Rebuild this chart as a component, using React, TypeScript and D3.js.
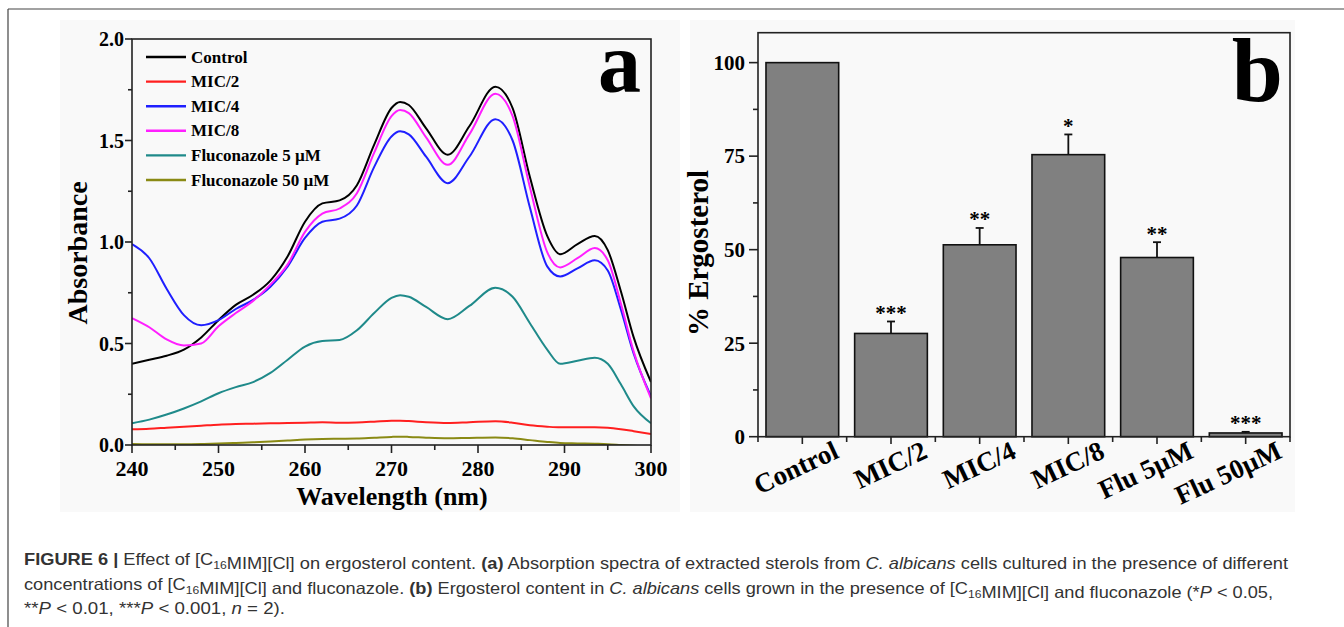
import * as React from 'react';
import { scaleLinear, scaleBand, line as d3line, curveMonotoneX, range } from 'd3';

// ---- panel a: absorption spectra ----
const WAVELENGTH = [240, 242, 244, 246, 248, 250, 252, 254, 256, 258, 260, 262, 264, 266, 268, 270, 271, 272, 274, 276.5, 279, 282, 284, 286, 288, 289.5, 291.5, 293.5, 295, 296.5, 298, 300];
const CONTROL = [0.40, 0.42, 0.44, 0.47, 0.53, 0.615, 0.69, 0.74, 0.81, 0.93, 1.10, 1.19, 1.205, 1.28, 1.48, 1.66, 1.69, 1.675, 1.56, 1.43, 1.57, 1.765, 1.66, 1.32, 1.03, 0.94, 0.99, 1.03, 0.96, 0.76, 0.53, 0.31];
const MIC2 = [0.077, 0.08, 0.085, 0.09, 0.095, 0.10, 0.103, 0.105, 0.107, 0.108, 0.11, 0.112, 0.11, 0.111, 0.115, 0.12, 0.12, 0.118, 0.112, 0.108, 0.112, 0.117, 0.11, 0.097, 0.09, 0.087, 0.087, 0.087, 0.085, 0.078, 0.068, 0.054];
const MIC4 = [0.99, 0.92, 0.77, 0.64, 0.59, 0.615, 0.67, 0.715, 0.78, 0.88, 1.02, 1.10, 1.115, 1.18, 1.37, 1.52, 1.545, 1.53, 1.42, 1.29, 1.42, 1.605, 1.50, 1.17, 0.88, 0.83, 0.87, 0.91, 0.86, 0.67, 0.45, 0.24];
const MIC8 = [0.625, 0.58, 0.52, 0.49, 0.50, 0.585, 0.65, 0.71, 0.79, 0.89, 1.05, 1.14, 1.165, 1.24, 1.44, 1.62, 1.65, 1.635, 1.515, 1.38, 1.53, 1.73, 1.62, 1.27, 0.95, 0.875, 0.92, 0.97, 0.91, 0.70, 0.46, 0.23];
const FLU5 = [0.107, 0.125, 0.15, 0.18, 0.215, 0.255, 0.285, 0.31, 0.355, 0.42, 0.485, 0.512, 0.517, 0.565, 0.65, 0.725, 0.738, 0.73, 0.68, 0.62, 0.685, 0.775, 0.73, 0.60, 0.47, 0.40, 0.415, 0.43, 0.40, 0.30, 0.19, 0.107];
const FLU50 = [0.005, 0.004, 0.004, 0.004, 0.005, 0.007, 0.01, 0.013, 0.017, 0.022, 0.027, 0.03, 0.031, 0.032, 0.036, 0.04, 0.041, 0.04, 0.036, 0.033, 0.035, 0.037, 0.033, 0.024, 0.015, 0.01, 0.008, 0.006, 0.004, 0.0, -0.004, -0.008];

const SPECTRA_NAMES = ['Control', 'MIC/2', 'MIC/4', 'MIC/8', 'Fluconazole 5 µM', 'Fluconazole 50 µM'];
const SPECTRA = [CONTROL, MIC2, MIC4, MIC8, FLU5, FLU50];
const SPECTRA_COLORS = ['#000000', '#ff1f1f', '#1f1fff', '#ff1fff', '#1f8a8a', '#8a8a14'];
const ABS_TICKS = ['0.0', '0.5', '1.0', '1.5', '2.0'];
const WL_TICKS = ['240', '250', '260', '270', '280', '290', '300'];

// ---- panel b: ergosterol content ----
const CATEGORIES = ['Control', 'MIC/2', 'MIC/4', 'MIC/8', 'Flu 5µM', 'Flu 50µM'];
const ERGOSTEROL = [100, 27.6, 51.3, 75.4, 47.9, 1.0];
const ERGO_ERR = [0, 3.2, 4.5, 5.4, 4.1, 0.3];
const SIGNIF = ['', '***', '**', '*', '**', '***'];
const ERGO_TICKS = ['0', '25', '50', '75', '100'];

const SERIF = '"Liberation Serif", "Times New Roman", serif';
const SANS = '"Liberation Sans", Arial, sans-serif';

function SpectraPanel() {
  const x = scaleLinear().domain([240, 300]).range([132, 651]);
  const y = scaleLinear().domain([0, 2]).range([445, 39]);
  const ln = d3line<number>()
    .x((_, i) => x(WAVELENGTH[i]))
    .y(d => y(d))
    .curve(curveMonotoneX);

  return (
    <g>
      <rect x={60} y={20} width={620} height={492} fill="#f9f9f9" />
      <clipPath id="clipA">
        <rect x={132} y={39} width={519} height={406} />
      </clipPath>
      <g clipPath="url(#clipA)">
        {SPECTRA.map((s, i) => (
          <path key={i} d={ln(s) ?? ''} fill="none" stroke={SPECTRA_COLORS[i]} strokeWidth={2} />
        ))}
      </g>
      <rect x={132} y={39} width={519} height={406} fill="none" stroke="#222" strokeWidth={1.6} />
      {/* y ticks */}
      {range(0, 2.001, 0.25).map(v => {
        const major = Math.abs(v * 2 - Math.round(v * 2)) < 1e-6;
        return <line key={v} x1={132} x2={132 - (major ? 7 : 4)} y1={y(v)} y2={y(v)} stroke="#222" strokeWidth={1.6} />;
      })}
      {ABS_TICKS.map(t => (
        <text key={t} x={124} y={y(+t)} dy="0.35em" textAnchor="end" fontFamily={SERIF} fontWeight="bold" fontSize={20}>{t}</text>
      ))}
      {/* x ticks */}
      {range(240, 301, 5).map(v => (
        <line key={v} x1={x(v)} x2={x(v)} y1={445} y2={445 + (v % 10 === 0 ? 8 : 5)} stroke="#222" strokeWidth={1.6} />
      ))}
      {WL_TICKS.map(t => (
        <text key={t} x={x(+t)} y={476} textAnchor="middle" fontFamily={SERIF} fontWeight="bold" fontSize={22}>{t}</text>
      ))}
      <text x={392} y={505} textAnchor="middle" fontFamily={SERIF} fontWeight="bold" fontSize={26}>Wavelength (nm)</text>
      <text transform="translate(87,253) rotate(-90)" textAnchor="middle" fontFamily={SERIF} fontWeight="bold" fontSize={28}>Absorbance</text>
      <text x={641} y={92} textAnchor="end" fontFamily={SERIF} fontWeight="bold" fontSize={86}>a</text>
      {/* legend */}
      {SPECTRA_NAMES.map((name, i) => {
        const ly = 57 + i * 24.6;
        return (
          <g key={name}>
            <line x1={146} x2={186} y1={ly} y2={ly} stroke={SPECTRA_COLORS[i]} strokeWidth={2.4} />
            <text x={191} y={ly} dy="0.33em" fontFamily={SERIF} fontWeight="bold" fontSize={17}>{name}</text>
          </g>
        );
      })}
    </g>
  );
}

function ErgosterolPanel() {
  const x = scaleBand<string>().domain(CATEGORIES).range([758, 1290]).paddingInner(0.18).paddingOuter(0.09);
  const y = scaleLinear().domain([0, 108]).range([436.7, 32.7]);
  const bw = x.bandwidth();
  const edges = range(0, CATEGORIES.length + 1).map(k => 758 + (k * 532) / CATEGORIES.length);

  return (
    <g>
      <rect x={690} y={20} width={605} height={492} fill="#f9f9f9" />
      {CATEGORIES.map((c, i) => {
        const cx = (x(c) ?? 0) + bw / 2;
        const top = y(ERGOSTEROL[i]);
        const errTop = y(ERGOSTEROL[i] + ERGO_ERR[i]);
        return (
          <g key={c}>
            {ERGO_ERR[i] > 0 && (
              <g stroke="#111" strokeWidth={1.8}>
                <line x1={cx} x2={cx} y1={top} y2={errTop} />
                <line x1={cx - 4} x2={cx + 4} y1={errTop} y2={errTop} />
              </g>
            )}
            <rect x={x(c)} y={top} width={bw} height={y(0) - top} fill="#808080" stroke="#111" strokeWidth={1.6} />
            {SIGNIF[i] && (
              <text x={cx} y={errTop - 1.5} textAnchor="middle" fontFamily={SERIF} fontWeight="bold" fontSize={21}>{SIGNIF[i]}</text>
            )}
            <text transform={`translate(${cx + 38},457) rotate(-25)`} textAnchor="end" fontFamily={SERIF} fontWeight="bold" fontSize={27}>{c}</text>
          </g>
        );
      })}
      <rect x={758} y={32.7} width={532} height={404} fill="none" stroke="#222" strokeWidth={1.6} />
      {range(0, 108, 12.5).map(v => {
        const major = v % 25 === 0;
        return <line key={v} x1={758} x2={758 - (major ? 9 : 5)} y1={y(v)} y2={y(v)} stroke="#222" strokeWidth={1.6} />;
      })}
      {ERGO_TICKS.map(t => (
        <text key={t} x={745} y={y(+t)} dy="0.35em" textAnchor="end" fontFamily={SERIF} fontWeight="bold" fontSize={21}>{t}</text>
      ))}
      {edges.map((ex, k) => (
        <line key={'b' + k} x1={ex} x2={ex} y1={436.7} y2={442} stroke="#222" strokeWidth={1.6} />
      ))}
      {CATEGORIES.map(c => {
        const cx = (x(c) ?? 0) + bw / 2;
        return <line key={'t' + c} x1={cx} x2={cx} y1={436.7} y2={444} stroke="#222" strokeWidth={1.6} />;
      })}
      <text transform="translate(708,253) rotate(-90)" textAnchor="middle" fontFamily={SERIF} fontWeight="bold" fontSize={29}>% Ergosterol</text>
      <text x={1283} y={101} textAnchor="end" fontFamily={SERIF} fontWeight="bold" fontSize={92}>b</text>
    </g>
  );
}

function Caption() {
  const sub = (s: string) => [
    <tspan key="s" dy={4} fontSize={11}>{s}</tspan>,
    <tspan key="r" dy={-4}></tspan>,
  ];
  return (
    <g fontFamily={SANS} fontSize={16.5} fill="#333">
      <text x={24} y={565} textLength={1264} lengthAdjust="spacingAndGlyphs">
        <tspan fontWeight="bold">FIGURE 6 |</tspan>
        <tspan> Effect of [C</tspan>{sub('16')}<tspan>MIM][Cl] on ergosterol content. </tspan>
        <tspan fontWeight="bold">(a)</tspan>
        <tspan> Absorption spectra of extracted sterols from </tspan>
        <tspan fontStyle="italic">C. albicans</tspan>
        <tspan> cells cultured in the presence of different</tspan>
      </text>
      <text x={24} y={589.5} textLength={1249} lengthAdjust="spacingAndGlyphs">
        <tspan>concentrations of [C</tspan>{sub('16')}<tspan>MIM][Cl] and fluconazole. </tspan>
        <tspan fontWeight="bold">(b)</tspan>
        <tspan> Ergosterol content in </tspan>
        <tspan fontStyle="italic">C. albicans</tspan>
        <tspan> cells grown in the presence of [C</tspan>{sub('16')}<tspan>MIM][Cl] and fluconazole (*</tspan>
        <tspan fontStyle="italic">P</tspan>
        <tspan> &lt; 0.05,</tspan>
      </text>
      <text x={24} y={614} textLength={261} lengthAdjust="spacingAndGlyphs">
        <tspan>**</tspan><tspan fontStyle="italic">P</tspan><tspan> &lt; 0.01, ***</tspan>
        <tspan fontStyle="italic">P</tspan><tspan> &lt; 0.001, </tspan>
        <tspan fontStyle="italic">n</tspan><tspan> = 2).</tspan>
      </text>
    </g>
  );
}

export default function App() {
  return (
    <svg width={1344} height={627} style={{ position: 'absolute', left: 0, top: 0, background: '#fff' }}>
      <line x1={8} x2={1344} y1={9} y2={9} stroke="#444" strokeWidth={1.2} />
      <line x1={8} x2={8} y1={9} y2={627} stroke="#444" strokeWidth={1.2} />
      <SpectraPanel />
      <ErgosterolPanel />
      <Caption />
    </svg>
  );
}
